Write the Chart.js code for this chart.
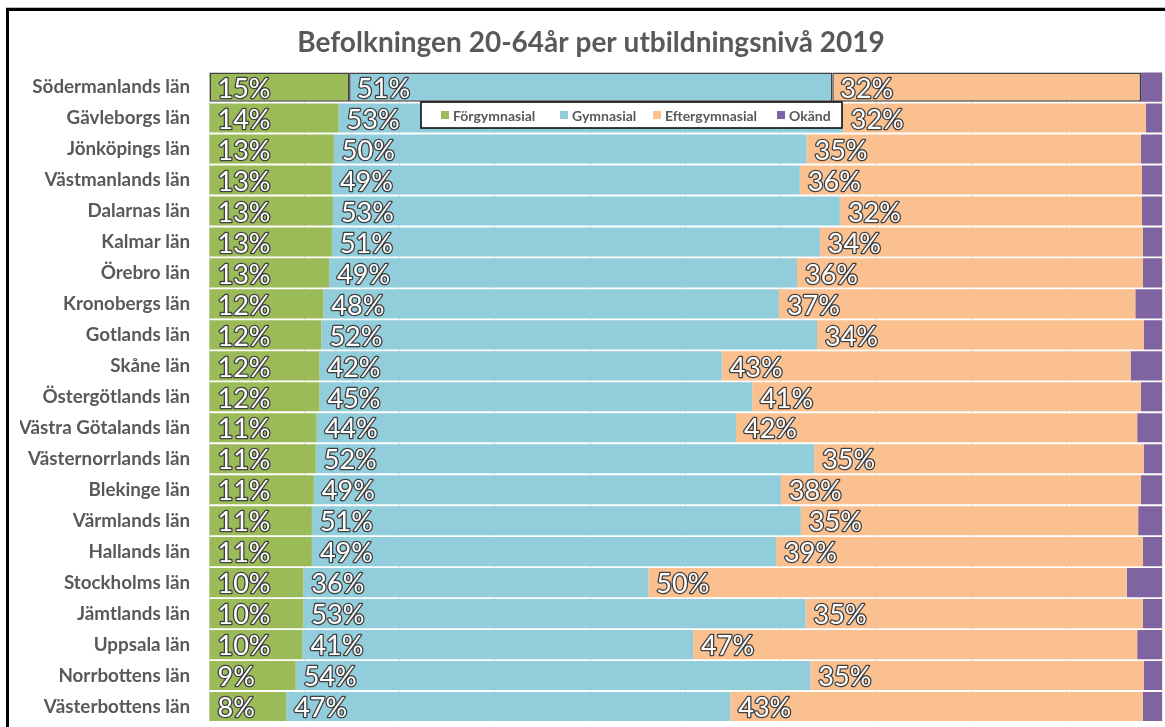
<!DOCTYPE html>
<html>
<head>
<meta charset="utf-8">
<script src="https://cdn.jsdelivr.net/npm/chart.js@4.4.1/dist/chart.umd.min.js"></script>
<style>
  html, body { margin: 0; padding: 0; background: #fff; }
  #wrap { width: 1165px; height: 727px; position: relative; }
</style>
</head>
<body>
<div id="wrap"><canvas id="chart" width="1165" height="727"></canvas></div>
<script>
const regions = [
  "Södermanlands län", "Gävleborgs län", "Jönköpings län", "Västmanlands län",
  "Dalarnas län", "Kalmar län", "Örebro län", "Kronobergs län", "Gotlands län",
  "Skåne län", "Östergötlands län", "Västra Götalands län", "Västernorrlands län",
  "Blekinge län", "Värmlands län", "Hallands län", "Stockholms län", "Jämtlands län",
  "Uppsala län", "Norrbottens län", "Västerbottens län"
]

const forgymnasial = [14.7, 13.6, 13.1, 12.9, 13.0, 12.9, 12.6, 12.0, 11.8, 11.6, 11.6, 11.3, 11.2, 11.0, 10.8, 10.8, 9.9, 9.9, 9.8, 9.1, 8.1]
const gymnasial = [50.7, 52.9, 49.6, 49.1, 53.2, 51.2, 49.1, 47.8, 52.0, 42.2, 45.4, 44.0, 52.3, 49.0, 51.3, 48.7, 36.2, 52.7, 41.0, 54.0, 46.6]
const eftergymnasial = [32.4, 31.8, 35.1, 35.9, 31.7, 33.9, 36.3, 37.4, 34.3, 42.9, 40.8, 42.1, 34.6, 37.8, 35.4, 38.5, 50.2, 35.4, 46.6, 35.0, 43.3]
const okand = [2.2, 1.7, 2.2, 2.1, 2.1, 2.0, 2.0, 2.8, 1.9, 3.3, 2.2, 2.6, 1.9, 2.2, 2.5, 2.0, 3.7, 2.0, 2.6, 1.9, 2.0]

const seriesNames = ["Förgymnasial", "Gymnasial", "Eftergymnasial", "Okänd"]
const seriesColors = ["#9bbb59", "#92cddc", "#fac090", "#8064a2"]

const textGray = "#595959"
const fontFamily = "Lato, 'Open Sans', sans-serif"

// outer frame of the chart object (cropped on the right and bottom)
const framePlugin = {
  id: "frame",
  beforeDraw(chart) {
    const ctx = chart.ctx
    ctx.save()
    ctx.fillStyle = "#fff"
    ctx.fillRect(0, 0, chart.width, chart.height)
    ctx.fillStyle = "#bdbdbd"
    ctx.fillRect(6, 7, chart.width, 1)
    ctx.fillStyle = "#000"
    ctx.fillRect(6, 8, chart.width, 3)
    ctx.fillRect(6, 8, 3, chart.height)
    ctx.restore()
  }
}

// Excel style labels: white text with dark outline at the inside base of each segment
const segmentLabels = {
  id: "segmentLabels",
  afterDatasetsDraw(chart) {
    const ctx = chart.ctx
    ctx.save()
    ctx.font = `27px ${fontFamily}`
    ctx.textBaseline = "middle"
    ctx.textAlign = "left"
    ctx.lineJoin = "round"
    chart.data.datasets.forEach((ds, di) => {
      if (di > 2) return
      chart.getDatasetMeta(di).data.forEach((bar, i) => {
        const text = `${Math.round(ds.data[i])}%`
        const x = Math.min(bar.base, bar.x) + 8
        const y = bar.y + 2
        ctx.lineWidth = 2.6
        ctx.strokeStyle = "#3f3f3f"
        ctx.strokeText(text, x, y)
        ctx.fillStyle = "#ffffff"
        ctx.fillText(text, x, y)
      })
    })
    ctx.restore()
  }
}

// legend box floating over the top bars
const floatingLegend = {
  id: "floatingLegend",
  afterDraw(chart) {
    const ctx = chart.ctx
    const box = { left: 421, top: 102, right: 842, bottom: 128 }
    const itemX = [441, 560, 653, 777]
    const cy = (box.top + box.bottom) / 2
    ctx.save()
    ctx.fillStyle = "#fff"
    ctx.fillRect(box.left, box.top, box.right - box.left, box.bottom - box.top)
    ctx.strokeStyle = "#000"
    ctx.lineWidth = 1.5
    ctx.strokeRect(box.left, box.top, box.right - box.left, box.bottom - box.top)
    ctx.font = `bold 14px ${fontFamily}`
    ctx.textBaseline = "middle"
    seriesNames.forEach((name, i) => {
      ctx.fillStyle = seriesColors[i]
      ctx.fillRect(itemX[i], cy - 4, 8, 8)
      ctx.fillStyle = textGray
      ctx.fillText(name, itemX[i] + 12, cy + 1)
    })
    ctx.restore()
  }
}

const datasets = [forgymnasial, gymnasial, eftergymnasial, okand].map((values, i) => ({
  label: seriesNames[i],
  data: values,
  backgroundColor: seriesColors[i],
  borderColor: "#404040",
  borderWidth: ctx => (ctx.dataIndex === 0 && ctx.datasetIndex < 3 ? 1.5 : 0),
  borderSkipped: false,
  categoryPercentage: 1,
  barPercentage: 0.94
}))

new Chart(document.getElementById("chart"), {
  type: "bar",
  data: { labels: regions, datasets },
  plugins: [framePlugin, segmentLabels, floatingLegend],
  options: {
    indexAxis: "y",
    responsive: false,
    animation: false,
    layout: { autoPadding: false, padding: { top: 0, right: 3, bottom: 5, left: 20 } },
    plugins: {
      legend: { display: false },
      tooltip: { enabled: false },
      title: {
        display: true,
        text: "Befolkningen 20-64år per utbildningsnivå 2019",
        color: textGray,
        font: { family: fontFamily, size: 28, weight: "bold" },
        padding: { top: 26, bottom: 12 }
      }
    },
    scales: {
      x: {
        stacked: true,
        min: 0,
        max: 100,
        ticks: { display: false, stepSize: 10 },
        grid: { color: "#e2e2e2", drawTicks: false },
        border: { display: false },
        afterFit: scale => { scale.height = 0 }
      },
      y: {
        stacked: true,
        grid: { display: false, drawTicks: false },
        border: { display: false },
        ticks: {
          color: textGray,
          padding: 19,
          font: { family: fontFamily, size: 18.8, weight: "bold" }
        },
        afterFit: scale => {
          scale.width = 189
          scale.paddingTop = 0
          scale.paddingBottom = 0
        }
      }
    }
  }
})
</script>
</body>
</html>
